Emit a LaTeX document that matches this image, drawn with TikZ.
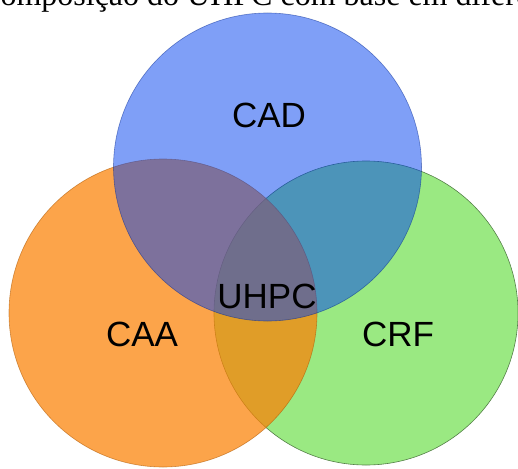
\documentclass[tikz,border=0pt]{standalone}
\usepackage{fontspec}
\setmainfont{Liberation Serif}
\newfontfamily\labelfont{Liberation Sans}
\usetikzlibrary{positioning}
\definecolor{CADBlue}{RGB}{0,64,240}
\definecolor{CAAOrange}{RGB}{251,130,7}
\definecolor{CRFGreen}{RGB}{154,233,130}

\begin{document}
\begin{tikzpicture}[
    x=1pt, y=-1pt,
    set/.style={circle, inner sep=0pt, line width=0.6pt},
    setlabel/.style={font=\labelfont\fontsize{35}{40}\selectfont, text=black, inner sep=0pt}
]
    \useasboundingbox (0,0) rectangle (518,468);
    % caption, cut off by the page edge
    \begin{scope}
        \clip (0,0) rectangle (518,468);
        \node[anchor=base west, inner sep=0pt, font=\fontsize{32}{36}\selectfont] (caption) at (-21,6) {Composição do UHPC com base em diferentes};
    \end{scope}

    \node[set, minimum size=304pt, fill=CRFGreen, draw=CRFGreen!55!black] (crf) at (366,313) {};
    \node[set, minimum size=308pt, fill=CAAOrange, fill opacity=0.73, draw=CAAOrange!70!black, draw opacity=0.6] (caa) at (163,313) {};
    \node[set, minimum size=308pt, fill=CADBlue, fill opacity=0.5, draw=CADBlue!60!black, draw opacity=0.5] (cad) at (267.5,167) {};

    \node[setlabel] (cadlabel) at (269,115) {CAD};
    \node[setlabel] (caalabel) at (142,334) {CAA};
    \node[setlabel] (crflabel) at (398,334) {CRF};
    \node[setlabel] (uhpclabel) at (267,296) {UHPC};
\end{tikzpicture}
\end{document}
